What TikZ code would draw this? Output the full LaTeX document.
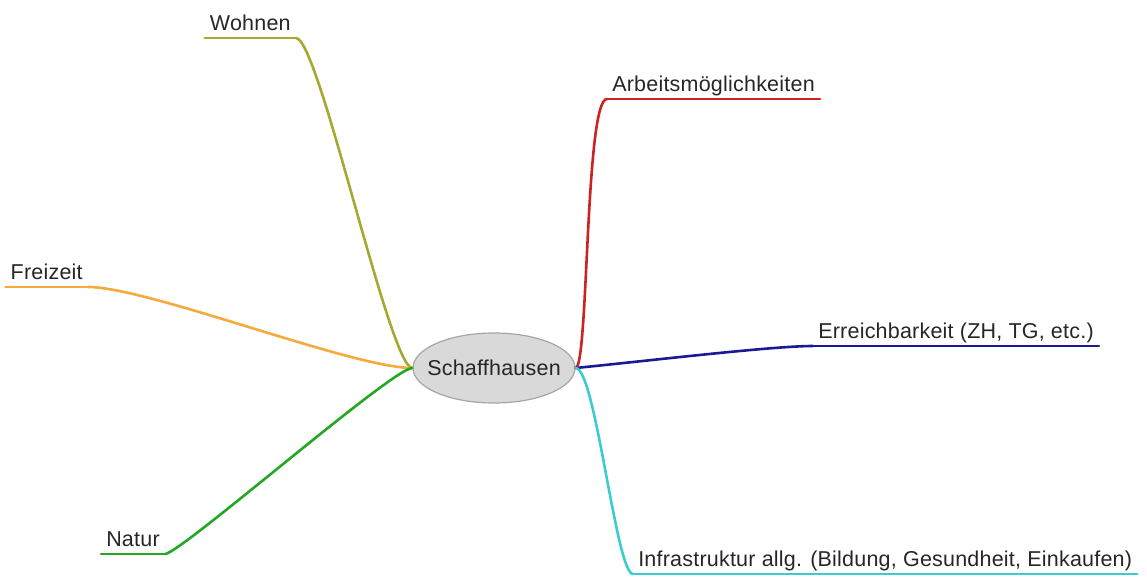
\documentclass[tikz,border=0pt]{standalone}
\usepackage{fontspec}
\setmainfont{Liberation Sans}[LetterSpace=1.0]
\usetikzlibrary{shapes.geometric}
\definecolor{wohnencol}{RGB}{168,168,48}
\definecolor{freizeitcol}{RGB}{246,170,60}
\definecolor{naturcol}{RGB}{36,168,36}
\definecolor{arbeitcol}{RGB}{204,34,34}
\definecolor{erreichcol}{RGB}{26,26,150}
\definecolor{infracol}{RGB}{60,204,208}
\begin{document}
\begin{tikzpicture}[x=1pt,y=-1pt,line cap=round,line width=2.6pt,
  every node/.style={font=\fontsize{21.5}{26}\selectfont,text=black!85},
  topic/.style={inner xsep=4pt,inner ysep=6pt,text depth=0pt}]
\useasboundingbox (0,0) rectangle (1147,577);
\node[ellipse,draw=black!35,fill=black!15,line width=1.2pt,inner sep=0pt,
  minimum width=162pt,minimum height=70pt,label=center:Schaffhausen] (center) at (494,368) {};
% left side
\node[topic,anchor=south east] (wohnen) at (296,38) {Wohnen};
\node[topic,anchor=south east] (freizeit) at (88,287) {Freizeit};
\node[topic,anchor=south east] (natur) at (165,554) {Natur};
% right side
\node[topic,anchor=south west] (arbeit) at (607,99) {Arbeitsmöglichkeiten};
\node[topic,anchor=south west] (erreich) at (813,346) {Erreichbarkeit (ZH, TG, etc.)};
\node[topic,anchor=south west] (infra) at (633,574) {Infrastruktur allg. (Bildung, Gesundheit, Einkaufen)};
\foreach \nd/\col/\a/\b in {wohnen/wohnencol/-23/23,freizeit/freizeitcol/-60/60,natur/naturcol/-20/15}
{
  \draw[\col] (\nd.south west) -- (\nd.south east);
  \draw[\col] (center.west) .. controls +(\a,0) and +(\b,0) .. (\nd.south east);
}
\foreach \nd/\col/\a/\b/\c in {arbeit/arbeitcol/13/-22/0,erreich/erreichcol/80/-40/-8,infra/infracol/20/-17/0}
{
  \draw[\col] (\nd.south west) -- (\nd.south east);
  \draw[\col] (center.east) .. controls +(\a,\c) and +(\b,0) .. (\nd.south west);
}
\end{tikzpicture}
\end{document}
